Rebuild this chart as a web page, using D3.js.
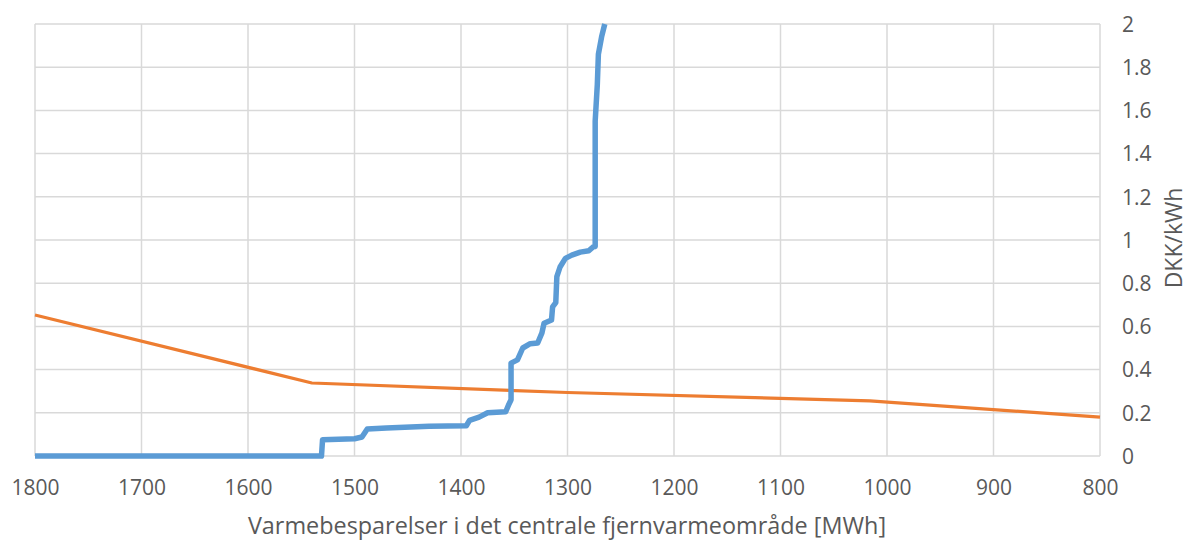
<!DOCTYPE html>
<html><head><meta charset="utf-8">
<script src="https://cdn.jsdelivr.net/npm/d3@7"></script>
<style>body{margin:0;background:#fff;} text{font-family:"Open Sans",sans-serif;fill:#595959;}</style>
</head><body><svg id="c" width="1189" height="540"></svg>
<script>
const xTicks = [1800,1700,1600,1500,1400,1300,1200,1100,1000,900,800];
const yTicks = [0,0.2,0.4,0.6,0.8,1,1.2,1.4,1.6,1.8,2];
const xTitle = "Varmebesparelser i det centrale fjernvarmeområde [MWh]";
const yTitle = "DKK/kWh";
const blueX = [1800,1531,1530,1500,1493,1488,1470,1430,1395,1392,1383,1375,1358,1355,1353,1353,1347,1342,1335,1328,1324,1322,1315,1314,1311,1310,1307,1302,1296,1288,1280,1276,1274,1274,1272,1271,1268,1265];
const blueY = [0,0,0.075,0.08,0.088,0.125,0.13,0.138,0.14,0.165,0.18,0.2,0.205,0.24,0.26,0.43,0.445,0.5,0.52,0.523,0.57,0.615,0.63,0.69,0.71,0.83,0.875,0.915,0.93,0.944,0.95,0.968,0.97,1.55,1.72,1.86,1.94,2.0];
const orangeX = [1800,1540,1300,1016,800];
const orangeY = [0.653,0.338,0.294,0.255,0.18];

const svg = d3.select("#c");
const x = d3.scaleLinear().domain([1800,800]).range([35,1100]);
const y = d3.scaleLinear().domain([0,2]).range([456,24]);

// gridlines
svg.append("g").selectAll("line").data(yTicks).join("line")
  .attr("x1",x(1800)).attr("x2",x(800)).attr("y1",d=>y(d)).attr("y2",d=>y(d))
  .attr("stroke","#d9d9d9").attr("stroke-width",1.5);
svg.append("g").selectAll("line").data(xTicks).join("line")
  .attr("x1",d=>x(d)).attr("x2",d=>x(d)).attr("y1",y(0)).attr("y2",y(2))
  .attr("stroke","#d9d9d9").attr("stroke-width",1.5);

// x axis labels
const xAxis = d3.axisBottom(x).tickValues(xTicks).tickSize(0).tickPadding(0).tickFormat(d3.format("d"));
const gx = svg.append("g").attr("transform",`translate(0,${y(0)})`).call(xAxis);
gx.select(".domain").remove();
gx.selectAll("text").attr("dy",null).attr("y",39).style("font-size","21px").attr("fill","#595959");

// y axis labels (right)
const yAxis = d3.axisRight(y).tickValues(yTicks).tickSize(0).tickPadding(0).tickFormat(d=>String(d));
const gy = svg.append("g").attr("transform",`translate(1122,0)`).call(yAxis);
gy.select(".domain").remove();
gy.selectAll("text").attr("x",0).attr("dy","0.35em").style("font-size","21px").attr("fill","#595959").attr("text-anchor","start");

// titles
svg.append("text").attr("x",567).attr("y",534).attr("text-anchor","middle").style("font-size","23.4px").text(xTitle);
svg.append("text").attr("transform",`translate(1182,${(y(0)+y(2))/2 - 2}) rotate(-90)`).attr("text-anchor","middle").style("font-size","23px").text(yTitle);

const line = d3.line().x(d=>x(d[0])).y(d=>y(d[1]));
svg.append("path").datum(orangeX.map((v,i)=>[v,orangeY[i]])).attr("d",line)
  .attr("fill","none").attr("stroke","#ed7d31").attr("stroke-width",3.2).attr("stroke-linejoin","round");
svg.append("path").datum(blueX.map((v,i)=>[v,blueY[i]])).attr("d",line)
  .attr("fill","none").attr("stroke","#5b9bd5").attr("stroke-width",5.5).attr("stroke-linejoin","round");
</script></body></html>
